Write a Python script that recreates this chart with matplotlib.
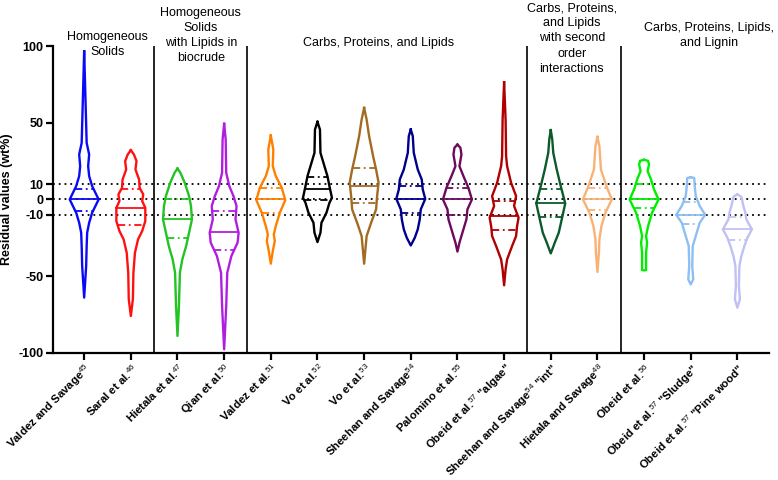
import numpy as np
import matplotlib
matplotlib.use('Agg')
import matplotlib.pyplot as plt

plt.rcParams['font.family'] = ['Liberation Sans', 'DejaVu Sans']
plt.rcParams['mathtext.fontset'] = 'custom'
plt.rcParams['mathtext.rm'] = 'Liberation Sans'
plt.rcParams['mathtext.it'] = 'Liberation Sans'

# study labels (x axis)
labels = ['Valdez and Savage$^{45}$', 'Saral et al.$^{46}$', 'Hietala et al.$^{47}$',
          'Qian et al.$^{50}$', 'Valdez et al.$^{51}$', 'Vo et al.$^{52}$', 'Vo et al.$^{53}$',
          'Sheehan and Savage$^{54}$', 'Palomino et al.$^{55}$', 'Obeid et al.$^{57}$ "algae"',
          'Sheehan and Savage$^{54}$ "int"', 'Hietala and Savage$^{48}$', 'Obeid et al.$^{56}$',
          'Obeid et al.$^{57}$ "Sludge"', 'Obeid et al.$^{57}$ "Pine wood"']

colors = ['#0a0af5', '#ff1010', '#22c322', '#b01fe0', '#ff8000', '#000000', '#a26a22',
          '#00008c', '#6c0a5c', '#b00000', '#0b5a2c', '#f9b276', '#00ee00', '#8ebff3', '#c0c0f7']

# median and quartiles of residuals (wt%)
medians = [0, -5.4, -13, -21.3, 0, 6.5, 9, 0.4, 0, -10.9, -2.6, 0, 0, -10.2, -19.1]
q1 = [-7.5, -16.5, -25, -32.8, -9, -0.4, -2.6, -8.7, -10, -20.2, -11.7, -7.2, -5.8, -15.9, -26.5]
q3 = [7, 6.5, 0, -7.8, 7.6, 14.8, 20.8, 8.7, 7.4, -1.1, 6.5, 7.6, 10, -1.7, -11.3]

# density profiles: residual levels and relative density at each level
dens_y = [
    [96.6, 60.8, 36.9, 29.3, 21.7, 15.2, 8.7, 0, -8.7, -15.2, -21.7, -30.4, -43.4, -64],
    [32.1, 29.3, 25, 19.5, 13, 7.6, 3.3, -1.1, -5.4, -14.1, -20.6, -26, -34.7, -47.8, -65, -76],
    [20.2, 17.4, 10.9, 2.2, -4.3, -13, -21.7, -30.4, -39.1, -47.8, -69.5, -89],
    [49.3, 39.1, 17.4, 8.7, 2.2, -4.3, -13, -21.7, -28.2, -36.9, -47.8, -69.5, -97.7],
    [41.7, 32.6, 21.7, 15.2, 7.6, -0.4, -8.7, -17.4, -22.8, -27.1, -33.7, -41.9],
    [50.6, 45.6, 30.4, 21.7, 15.2, 8.7, 1.1, -2.2, -8.7, -15.2, -21.7, -27.8],
    [59.7, 52.1, 41.3, 28.2, 19.5, 10.9, 2.2, -6.5, -15.2, -23.9, -41.9],
    [45.6, 41.3, 30.4, 19.5, 13, 6.5, 0.4, -6.5, -13, -19.5, -25, -30],
    [35.8, 33.7, 29.3, 21.7, 15.2, 7.6, 0, -6.5, -13, -19.5, -28.2, -34],
    [76.4, 52.1, 28.2, 21.7, 10.9, 2.2, -4.3, -11.9, -17.4, -23.9, -30.4, -39.1, -45.6, -56],
    [45.2, 39.1, 30.4, 19.5, 8.7, -2.6, -13, -21.7, -28.2, -35.2],
    [40.8, 34.7, 19.5, 8.7, 0, -8.7, -17.4, -26, -34.7, -47.3],
    [25.8, 25.2, 22.8, 18.5, 13, 6.5, 0, -8.7, -17.4, -23.9, -28.2, -34.7, -46, -46.3],
    [14.5, 14, 8.7, 2.2, -4.3, -10, -15.2, -23.9, -30.4, -43.4, -52.1, -55.4],
    [3.3, 1.7, -4.3, -8.7, -13, -19.5, -25, -30.4, -36.9, -43.4, -56.5, -65.1, -70.6],
]
dens_w = [
    [0, 1.5, 2.5, 5, 4, 5, 8, 14.5, 8, 5, 3, 2.5, 2, 0],
    [0, 3, 5.5, 4.5, 8, 8.5, 12, 11, 14, 14, 11, 7, 4, 2.5, 2, 0],
    [0, 3, 7.5, 12, 14, 15, 12, 9, 5, 2.5, 1.5, 0],
    [0, 1.5, 2, 5, 9, 12, 11, 14, 13, 7, 3, 2, 0],
    [0, 2.5, 2, 5, 11, 14.5, 9, 5, 3, 4, 2, 0],
    [0, 2.5, 3, 7, 10, 12, 14.5, 12, 9, 4, 3, 0],
    [0, 2.5, 5, 9, 12, 14.5, 13, 12, 7, 2.5, 0],
    [0, 2, 3, 7, 11, 12, 14.5, 10, 9, 7, 4, 0],
    [0, 3, 4, 2, 6, 11, 14.5, 10, 9, 6, 2, 0],
    [0, 1.5, 2, 3, 7, 12, 10, 14.5, 13, 12, 8, 3, 1.5, 0],
    [0, 1.5, 2.5, 6, 10, 14.5, 11, 8, 4, 0],
    [0, 2, 3.5, 9, 14.5, 8, 4, 2, 1.5, 0],
    [0, 4, 5, 3.5, 7, 10, 14.5, 8, 4, 2, 3, 2, 2, 0],
    [0, 3.5, 4, 5, 9, 14.5, 9, 5, 2, 1.5, 2.5, 0],
    [0, 4, 6, 8, 9, 14.5, 10, 7, 4, 2, 1.5, 2.5, 0],
]

# group headers
groups = ['Homogeneous\nSolids', 'Homogeneous\nSolids\nwith Lipids in\nbiocrude',
          'Carbs, Proteins, and Lipids',
          'Carbs, Proteins,\nand Lipids\nwith second\norder\ninteractions',
          'Carbs, Proteins, Lipids,\nand Lignin']
group_x = [1.5, 3.5, 7.3, 11.45, 14.4]
group_y = [101, 107, 102, 105, 107]
separators = [2.5, 4.5, 10.5, 12.5]

half_w = 0.31

fig = plt.figure(figsize=(7.78, 4.8), dpi=100)
ax = fig.add_axes([0.068, 0.265, 0.920, 0.639])

pos = np.arange(1, len(labels) + 1)

# reference lines at +-10 and 0
for yv in [10, 0, -10]:
    ax.axhline(yv, color='black', ls=(0, (1, 2.2)), lw=1.3, zorder=1)
for xs in separators:
    ax.axvline(xs, color='black', lw=1.2, zorder=1)

for i, p in enumerate(pos):
    y = np.array(dens_y[i], dtype=float)
    w = np.array(dens_w[i], dtype=float)
    w = w / w.max() * half_w
    xs = np.concatenate([p + w, (p - w)[::-1]])
    ys = np.concatenate([y, y[::-1]])
    ax.plot(xs, ys, color=colors[i], lw=1.7, solid_joinstyle='round', zorder=3)
    # median (solid) and quartiles (dash-dot), spanning violin width
    ww = np.interp(medians[i], y[::-1], w[::-1])
    ax.plot([p - ww, p + ww], [medians[i]] * 2, color=colors[i], lw=1.3, zorder=3)
    for q in (q1[i], q3[i]):
        wq = np.interp(q, y[::-1], w[::-1])
        ax.plot([p - wq, p + wq], [q] * 2, color=colors[i], lw=1.3,
                ls=(0, (4, 2, 1, 2)), zorder=3)

for g, gx, gy in zip(groups, group_x, group_y):
    ax.text(gx, gy, g, ha='center', va='center', fontsize=9, linespacing=1.35, clip_on=False)

ax.set_xlim(0.33, 15.67)
ax.set_ylim(-100, 100)
ax.set_yticks([100, 50, 10, 0, -10, -50, -100])
ax.set_yticklabels(['100', '50', '10', '0', '-10', '-50', '-100'], fontweight='bold', fontsize=9)
ax.set_xticks(pos)
ax.set_xticklabels(labels, rotation=45, ha='right', rotation_mode='anchor',
                   fontweight='bold', fontsize=8.2)
ax.set_ylabel('Residual values (wt%)', fontweight='bold', fontsize=9)
ax.spines['top'].set_visible(False)
ax.spines['right'].set_visible(False)
ax.spines['left'].set_linewidth(1.6)
ax.spines['bottom'].set_linewidth(1.6)
ax.tick_params(direction='out', length=5, width=1.6, pad=2)
ax.tick_params(axis='x', pad=1)

fig.savefig('out.png', dpi=100)
